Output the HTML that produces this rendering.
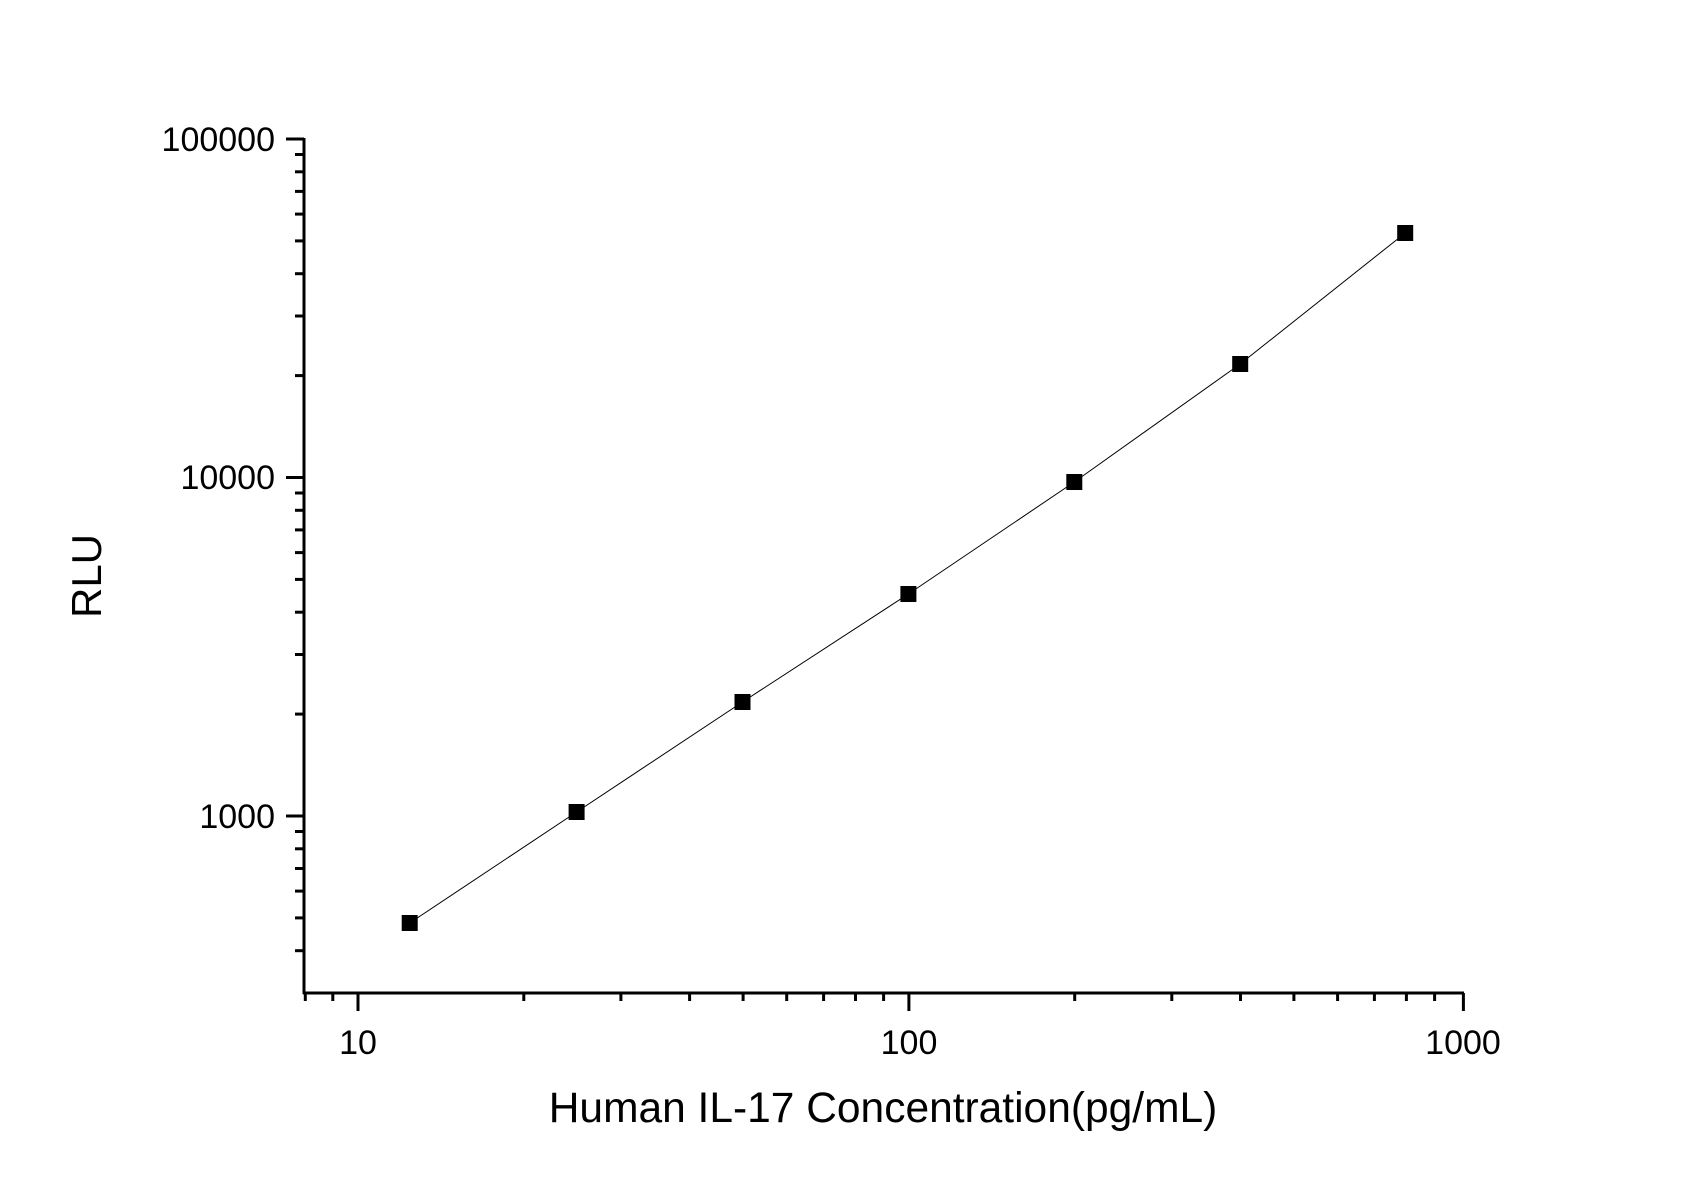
<!DOCTYPE html>
<html><head><meta charset="utf-8"><style>html,body{margin:0;padding:0;background:#fff}svg{display:block}</style></head>
<body>
<svg width="1695" height="1189" xmlns="http://www.w3.org/2000/svg" font-family="Liberation Sans, Arial, sans-serif">
<rect width="1695" height="1189" fill="#fff"/>
<g stroke="#000" stroke-width="3">
<line x1="304" y1="138" x2="304" y2="994"/>
<line x1="303" y1="993" x2="1464" y2="993"/>
<line x1="286" y1="816" x2="304" y2="816"/>
<line x1="286" y1="477.5" x2="304" y2="477.5"/>
<line x1="286" y1="139" x2="304" y2="139"/>
<line x1="295" y1="950.7" x2="304" y2="950.7"/>
<line x1="295" y1="917.9" x2="304" y2="917.9"/>
<line x1="295" y1="891.1" x2="304" y2="891.1"/>
<line x1="295" y1="868.5" x2="304" y2="868.5"/>
<line x1="295" y1="848.8" x2="304" y2="848.8"/>
<line x1="295" y1="831.5" x2="304" y2="831.5"/>
<line x1="295" y1="714.1" x2="304" y2="714.1"/>
<line x1="295" y1="654.5" x2="304" y2="654.5"/>
<line x1="295" y1="612.2" x2="304" y2="612.2"/>
<line x1="295" y1="579.4" x2="304" y2="579.4"/>
<line x1="295" y1="552.6" x2="304" y2="552.6"/>
<line x1="295" y1="529.9" x2="304" y2="529.9"/>
<line x1="295" y1="510.3" x2="304" y2="510.3"/>
<line x1="295" y1="493" x2="304" y2="493"/>
<line x1="295" y1="375.6" x2="304" y2="375.6"/>
<line x1="295" y1="316" x2="304" y2="316"/>
<line x1="295" y1="273.7" x2="304" y2="273.7"/>
<line x1="295" y1="240.9" x2="304" y2="240.9"/>
<line x1="295" y1="214.1" x2="304" y2="214.1"/>
<line x1="295" y1="191.4" x2="304" y2="191.4"/>
<line x1="295" y1="171.8" x2="304" y2="171.8"/>
<line x1="295" y1="154.5" x2="304" y2="154.5"/>
<line x1="358" y1="993" x2="358" y2="1011"/>
<line x1="908.9" y1="993" x2="908.9" y2="1011"/>
<line x1="1463.4" y1="993" x2="1463.4" y2="1011"/>
<line x1="305.3" y1="993" x2="305.3" y2="1001"/>
<line x1="332.8" y1="993" x2="332.8" y2="1001"/>
<line x1="523.8" y1="993" x2="523.8" y2="1001"/>
<line x1="620.9" y1="993" x2="620.9" y2="1001"/>
<line x1="689.6" y1="993" x2="689.6" y2="1001"/>
<line x1="743.1" y1="993" x2="743.1" y2="1001"/>
<line x1="786.7" y1="993" x2="786.7" y2="1001"/>
<line x1="823.6" y1="993" x2="823.6" y2="1001"/>
<line x1="855.5" y1="993" x2="855.5" y2="1001"/>
<line x1="883.6" y1="993" x2="883.6" y2="1001"/>
<line x1="1074.7" y1="993" x2="1074.7" y2="1001"/>
<line x1="1171.8" y1="993" x2="1171.8" y2="1001"/>
<line x1="1240.5" y1="993" x2="1240.5" y2="1001"/>
<line x1="1293.9" y1="993" x2="1293.9" y2="1001"/>
<line x1="1337.6" y1="993" x2="1337.6" y2="1001"/>
<line x1="1374.4" y1="993" x2="1374.4" y2="1001"/>
<line x1="1406.4" y1="993" x2="1406.4" y2="1001"/>
<line x1="1434.6" y1="993" x2="1434.6" y2="1001"/>
</g>
<g font-size="34" fill="#000" text-anchor="end">
<text x="275" y="151">100000</text>
<text x="275" y="489">10000</text>
<text x="275" y="828">1000</text>
</g>
<g font-size="34" fill="#000" text-anchor="middle">
<text x="358" y="1054">10</text>
<text x="909" y="1054">100</text>
<text x="1463" y="1054">1000</text>
</g>
<text x="883" y="1122" font-size="42.5" text-anchor="middle">Human IL-17 Concentration(pg/mL)</text>
<text transform="translate(101,576) rotate(-90)" font-size="42" text-anchor="middle">RLU</text>
<polyline fill="none" stroke="#000" stroke-width="1" points="409.7,923 576.6,812 742.5,702 908.4,594 1074.3,482 1240.2,364 1405.2,233"/>
<g fill="#000">
<rect x="401.7" y="915" width="16" height="16"/>
<rect x="568.6" y="804" width="16" height="16"/>
<rect x="734.5" y="694" width="16" height="16"/>
<rect x="900.4" y="586" width="16" height="16"/>
<rect x="1066.3" y="474" width="16" height="16"/>
<rect x="1232.2" y="356" width="16" height="16"/>
<rect x="1397.2" y="225" width="16" height="16"/>
</g>
</svg>
</body></html>
